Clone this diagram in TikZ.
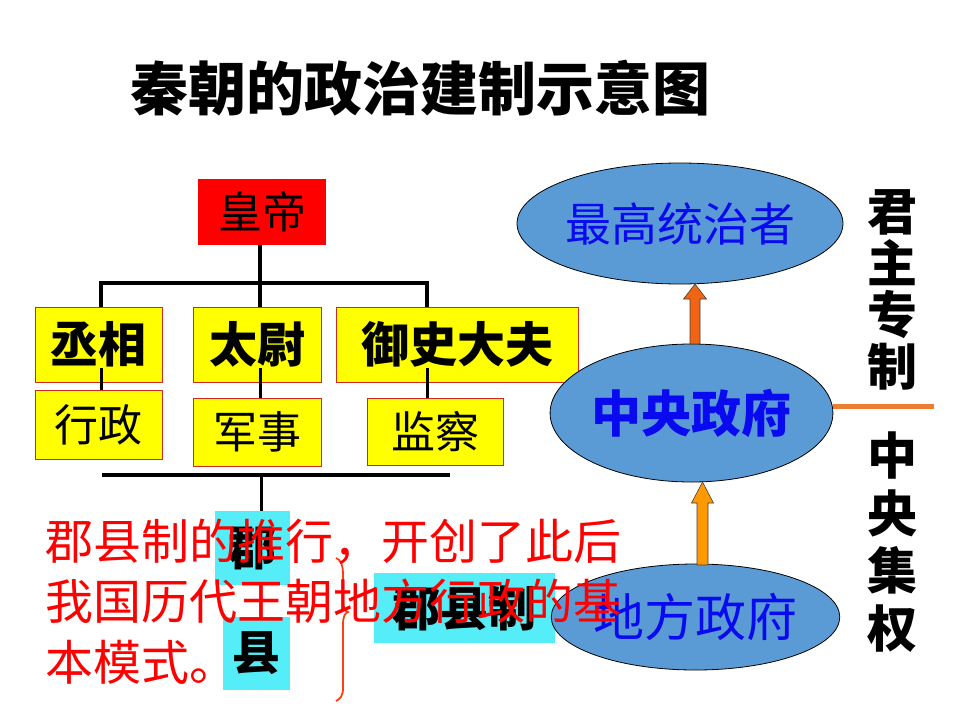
\documentclass[tikz,border=0pt]{standalone}
\usepackage{fontspec}
\newfontfamily\cjk{Noto Sans CJK SC}
\usetikzlibrary{calc,shapes.geometric}
\definecolor{boxred}{RGB}{255,0,0}
\definecolor{boxyellow}{RGB}{255,255,0}
\definecolor{edgered}{RGB}{210,40,30}
\definecolor{cyanbox}{RGB}{85,238,248}
\definecolor{ellblue}{RGB}{91,155,213}
\definecolor{txtblue}{RGB}{10,10,240}
\definecolor{arrA}{RGB}{240,100,20}
\definecolor{arrB}{RGB}{255,153,0}
\definecolor{lineorange}{RGB}{237,125,49}
\definecolor{bracered}{RGB}{255,60,20}
\definecolor{redtext}{RGB}{255,0,0}
\newcommand\fsz[2]{\fontsize{#1}{#2}\selectfont}
\begin{document}
\begin{tikzpicture}[x=1pt,y=-1pt,
  every node/.style={inner sep=0pt, outer sep=0pt},
  ybox/.style={fill=boxyellow, draw=edgered, line width=0.8pt},
  cbox/.style={fill=cyanbox},
  bigbold/.style={font=\cjk\bfseries\fsz{48}{48}},
  midreg/.style={font=\cjk\fsz{44}{44}},
  ell/.style={ellipse, fill=ellblue, draw=black, line width=0.8pt, text=txtblue},
  treeline/.style={line width=3.6pt},
  subline/.style={line width=3pt},
  blockarrow/.style={draw=black!75, line width=0.6pt},
  redtxt/.style={font=\cjk\fsz{48}{48}, text=redtext, anchor=base west},
  vtext/.style={font=\cjk\bfseries\fsz{50}{51.5}, align=center}
]
\useasboundingbox (0,0) rectangle (960,720);

% title
\node[font=\cjk\bfseries\fsz{58}{58}] (title) at (420,88) {秦朝的政治建制示意图};

% tree boxes
\node[fill=boxred, minimum width=128pt, minimum height=66pt, font=\cjk\fsz{44}{44}] (hd) at (262,212) {皇帝};
\node[ybox, bigbold, minimum width=127pt, minimum height=75pt] (cx) at (98.5,344.5) {丞相};
\node[ybox, bigbold, minimum width=128pt, minimum height=75pt] (tw) at (257,344.5) {太尉};
\node[ybox, bigbold, minimum width=242pt, minimum height=75pt] (ys) at (457,344.5) {御史大夫};
\node[ybox, midreg, minimum width=127pt, minimum height=69pt] (xz) at (98.5,424.5) {行政};
\node[ybox, midreg, minimum width=128pt, minimum height=68pt] (js) at (257,432) {军事};
\node[ybox, midreg, minimum width=136pt, minimum height=67pt] (jc) at (435,431.5) {监察};

\coordinate (t1) at (101,283);
\coordinate (t2) at (260,283);
\coordinate (t3) at (427,283);
\draw[treeline] (hd.south -| t2) -- (t2);
\draw[treeline] (t1 |- cx.north) -- (t1) -- (t3) -- (t3 |- ys.north);
\draw[treeline] (t2) -- (t2 |- tw.north);
\draw[subline] (t1 |- xz.north) -- ++(0,-22);
\draw[subline] (t2 |- js.north) -- ++(0,-30);
\draw[subline] (t3 |- jc.north) -- ++(0,-30);

% lower part
\node[cbox, bigbold, minimum width=75pt, minimum height=74pt] (jun) at (252.5,548) {郡};
\node[cbox, bigbold, minimum width=67pt, minimum height=73pt] (xian) at (256.5,653.5) {县};
\node[cbox, bigbold, minimum width=181pt, minimum height=70pt] (jxz) at (464.5,608) {郡县制};
\coordinate (b2l) at (102,475);
\coordinate (b2m) at (261,475);
\coordinate (b2r) at (450,475);
\draw[treeline] (b2l) -- (b2r);
\draw[subline] (b2m) -- (b2m |- jun.north);

% brace
\draw[bracered, line width=1.8pt] (336,558) .. controls (341,560) and (343,565) .. (343,575)
  -- (343,600) .. controls (343,608) and (345,611) .. (348,612)
  .. controls (345,613) and (343,616) .. (343,625)
  -- (343,688) .. controls (343,696) and (340,699) .. (336,701);

% ellipses
\node[ell, minimum width=326pt, minimum height=121pt, font=\cjk\fsz{46}{46}] (zg) at (680,223.5) {最高统治者};
\node[ell, minimum width=273pt, minimum height=138pt, font=\cjk\bfseries\fsz{50}{50}] (zy) at (691.5,413) {中央政府};
\node[ell, minimum width=279pt, minimum height=106pt, font=\cjk\fsz{51}{51}] (df) at (695.5,617) {地方政府};

% block arrows
\coordinate (a1b) at ($(zy.north)+(3.5,0)$);
\coordinate (a1t) at (a1b |- zg.south);
\draw[blockarrow, fill=arrA] ($(a1b)+(-5,0)$) -- ($(a1t)+(-5,15)$) -- ($(a1t)+(-11.5,15)$) -- (a1t)
  -- ($(a1t)+(11.5,15)$) -- ($(a1t)+(5,15)$) -- ($(a1b)+(5,0)$) -- cycle;
\coordinate (a2b) at ($(df.north)+(7,1)$);
\coordinate (a2t) at (a2b |- zy.south);
\draw[blockarrow, fill=arrB] ($(a2b)+(-5.5,0)$) -- ($(a2t)+(-5.5,21)$) -- ($(a2t)+(-11,21)$) -- (a2t)
  -- ($(a2t)+(11,21)$) -- ($(a2t)+(5.5,21)$) -- ($(a2b)+(5.5,0)$) -- cycle;

% orange line
\coordinate (oe) at (934,406);
\draw[lineorange, line width=5pt] (oe -| zy.east) -- (oe);

% vertical texts
\node[vtext] (jzzz) at (892,290) {君\\主\\专\\制};
\node[vtext, font=\cjk\bfseries\fsz{50}{57.5}] (zyjq) at (892,542) {中\\央\\集\\权};

% red overlay text
\node[redtxt] (r1) at (45,559) {郡县制的推行，开创了此后};
\node[redtxt] (r2) at (45,619) {我国历代王朝地方行政的基};
\node[redtxt] (r3) at (45,680) {本模式。};
\end{tikzpicture}
\end{document}
